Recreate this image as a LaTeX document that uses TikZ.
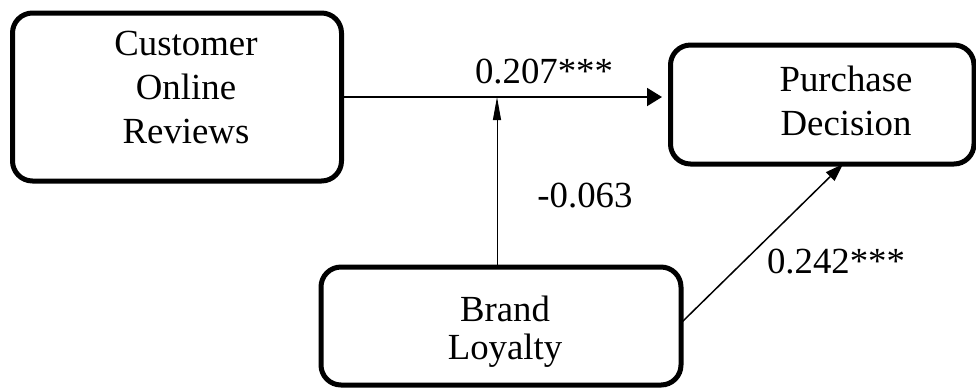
\documentclass[tikz,border=0pt]{standalone}
\usepackage{fontspec}
\setmainfont{Liberation Serif}
\usetikzlibrary{arrows.meta}
\begin{document}
\begin{tikzpicture}[x=0.5pt,y=-0.5pt,
  box/.style={draw, line width=2.5pt, rounded corners=10pt, outer sep=0pt, inner sep=0pt},
  txt/.style={align=center, inner sep=0pt, font=\fontsize{18.4pt}{22pt}\selectfont},
  coef/.style={inner sep=0pt, anchor=base, font=\fontsize{18.4pt}{22pt}\selectfont},
]
\useasboundingbox (0,0) rectangle (976,388);

% variable boxes
\node[box, minimum width=164.5pt, minimum height=84pt] (cor) at (177,97) {};
\node[box, minimum width=151.75pt, minimum height=59.5pt] (pd) at (822.25,104.5) {};
\node[box, minimum width=180pt, minimum height=59pt] (bl) at (501,326) {};

% box texts
\node[txt] (corT) at (186,87) {Customer\\Online\\Reviews};
\node[txt] (pdT) at (846,101) {Purchase\\Decision};
\node[txt, font=\fontsize{18.4pt}{19pt}\selectfont] (blT) at (505,332) {Brand\\Loyalty};

% paths
\coordinate (m) at (497,97);
\draw[line width=1pt, -{Triangle[length=7.5pt,width=9pt]}, shorten >=4.25pt]
  (cor.east) -- (cor.east -| pd.west);
\draw[line width=0.5pt, -{Triangle[length=11.5pt,width=4pt]}]
  (bl.north -| m) -- (m);
\draw[line width=0.75pt, -{Triangle[length=9pt,width=6pt]}]
  ([yshift=1.5pt]bl.east) -- ([xshift=10.4pt]pd.south);

% coefficients
\node[coef] (c1) at (544,83) {0.207***};
\node[coef] (c2) at (585,207) {-0.063};
\node[coef] (c3) at (836,273) {0.242***};
\end{tikzpicture}
\end{document}
